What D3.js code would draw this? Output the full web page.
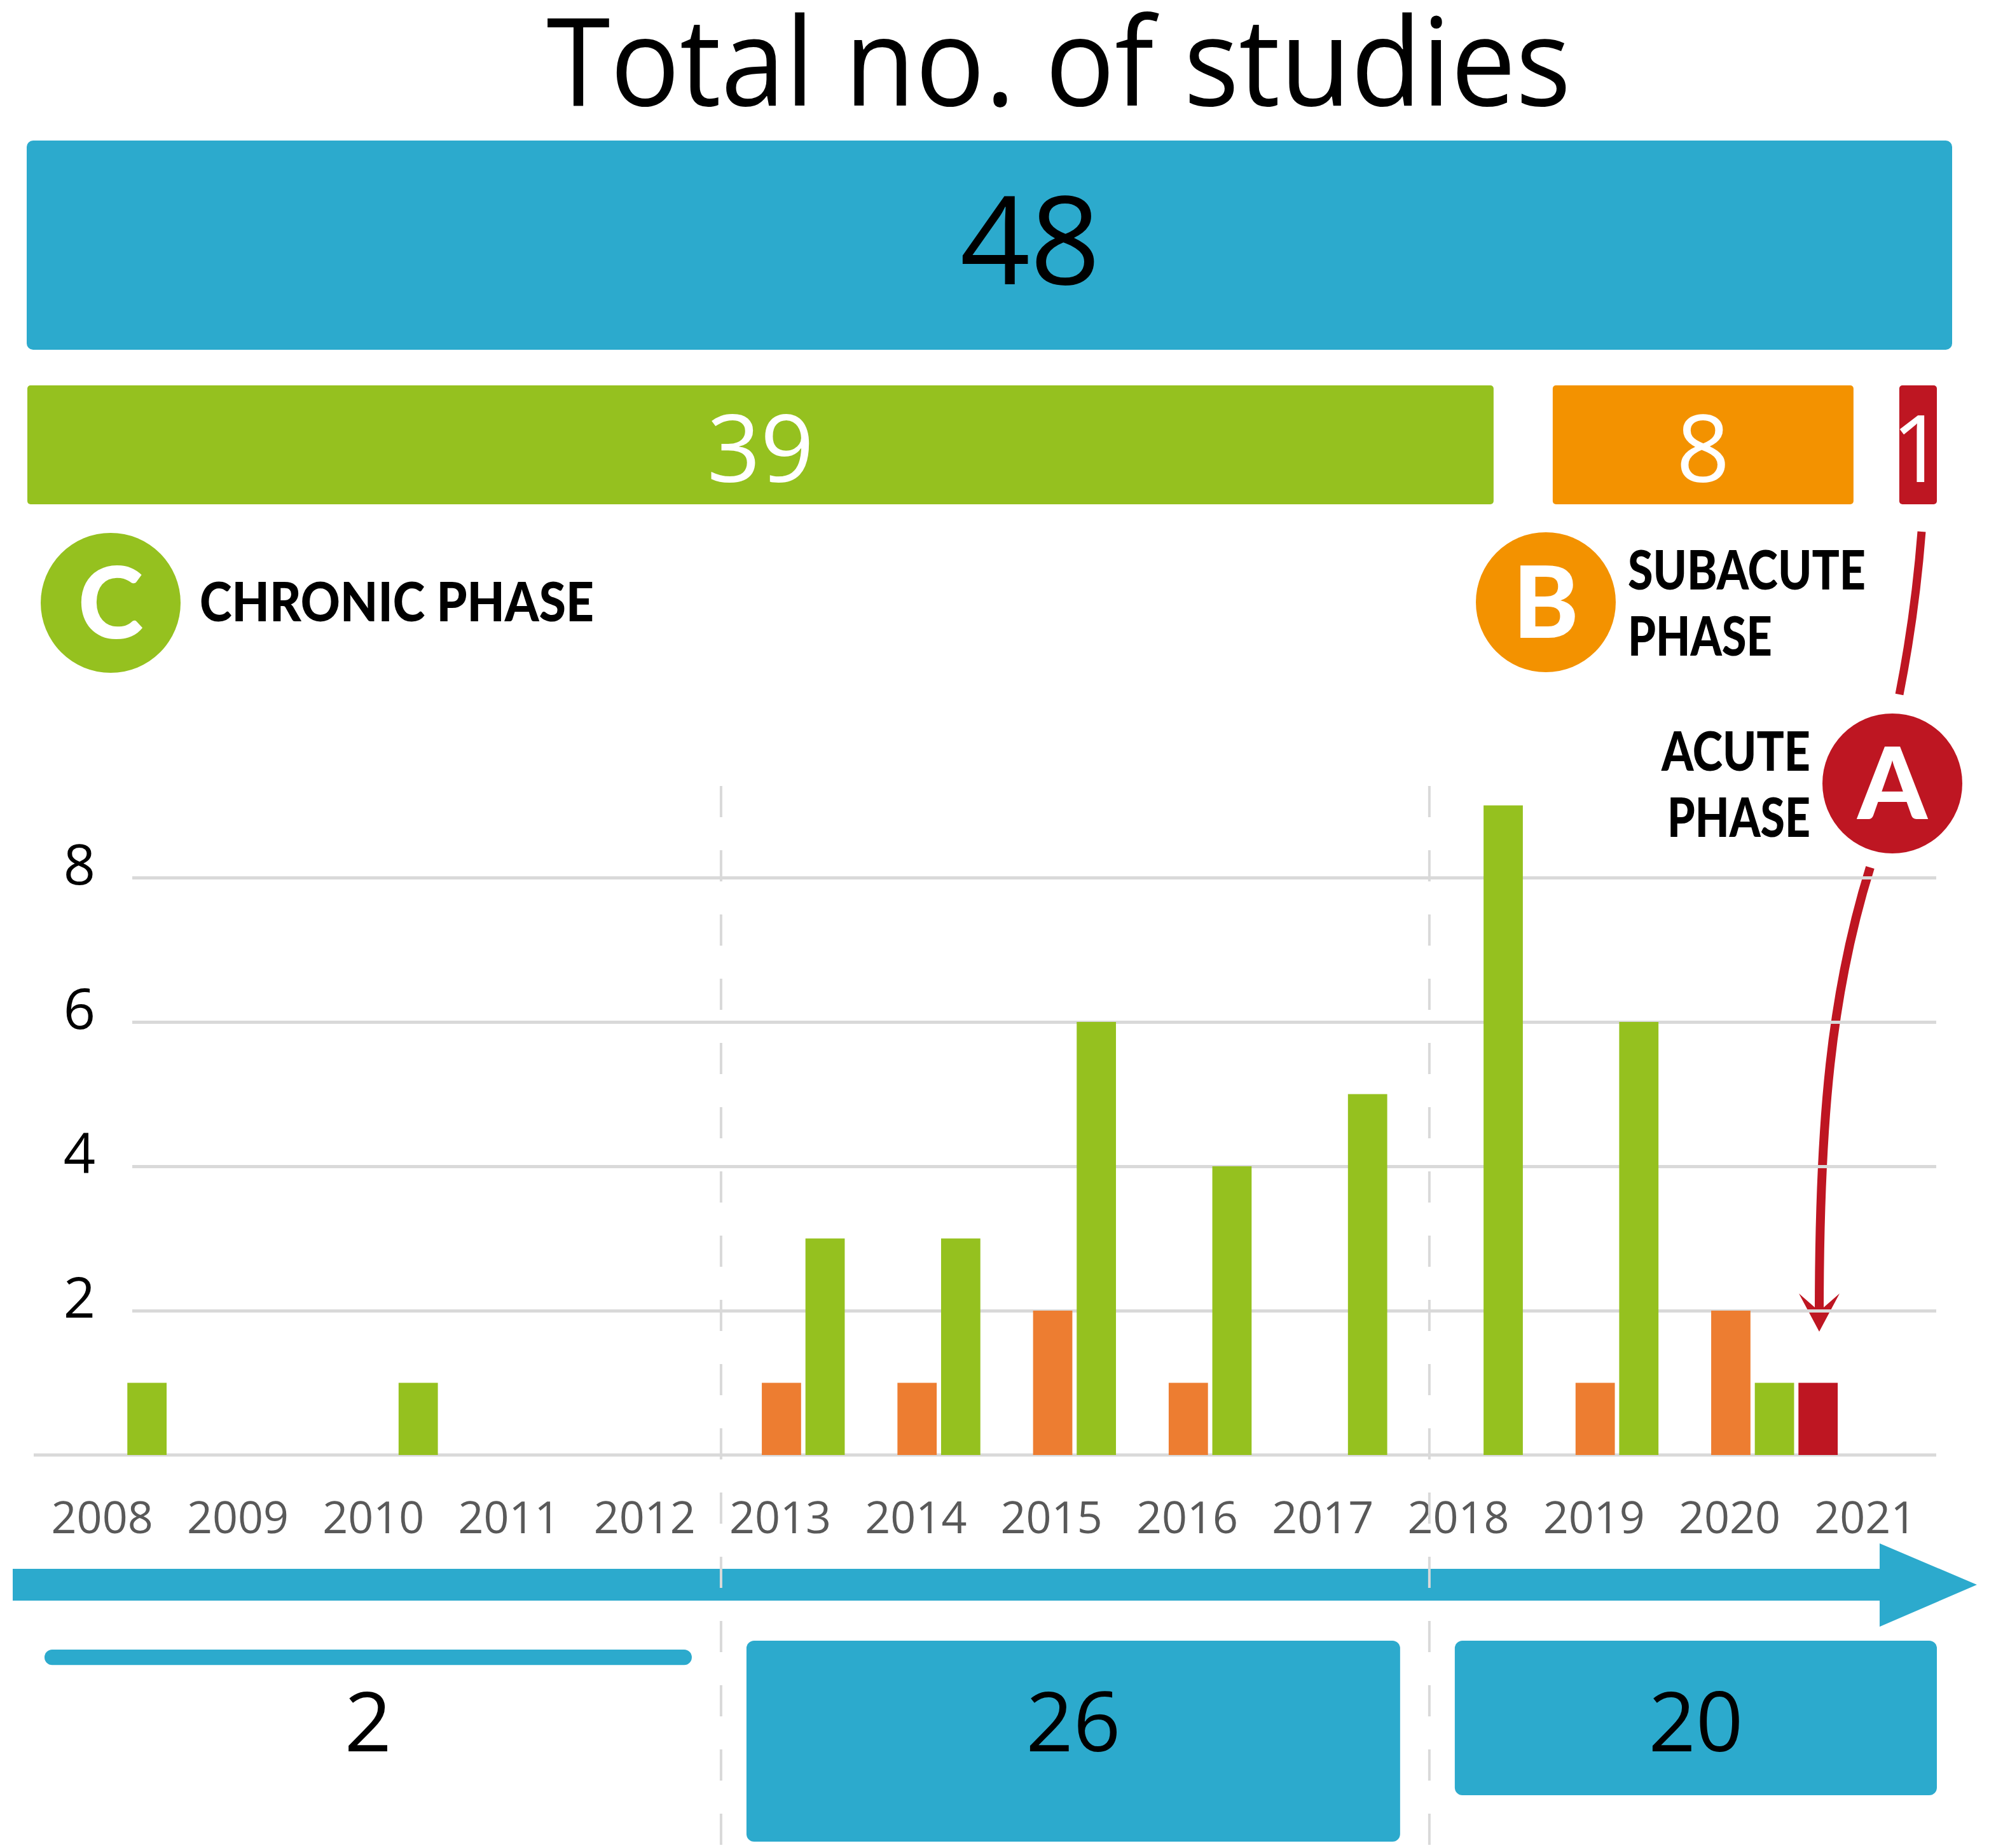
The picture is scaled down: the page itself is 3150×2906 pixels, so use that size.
<!DOCTYPE html>
<html>
<head>
<meta charset="utf-8">
<script src="https://cdn.jsdelivr.net/npm/d3@7"></script>
<style>
html,body{margin:0;padding:0;background:#fff;}
svg{display:block;}
</style>
</head>
<body>
<div id="chart"></div>
<script>
"use strict";
// données
const title = "Total no. of studies";
const totalStudies = 48;
const years = [2008,2009,2010,2011,2012,2013,2014,2015,2016,2017,2018,2019,2020,2021];
const chronic  = [1,0,1,0,0,3,3,6,4,5,9,6,1,0];
const subacute = [0,0,0,0,0,1,1,2,1,0,0,1,2,0];
const acute    = [0,0,0,0,0,0,0,0,0,0,0,0,1,0];
const seriesOrder = ["subacute","chronic","acute"];
const phaseNames = ["chronic","subacute","acute"];
const phaseTotals = [39,8,1];
const yTicks = [2,4,6,8];
const periodStart = [2008,2013,2018];
const periodEnd   = [2012,2017,2021];
const periodTotals = [2,26,20];

const col = {
    blue:"#2CAACD", green:"#95C11F", orange:"#F39200", orangeBar:"#ED7D31",
    red:"#BE1622", grid:"#D9D9D9", year:"#595959"
};
const W = 3150, H = 2906;
const fontNum = "'Open Sans', 'Noto Sans', sans-serif";
const fontBold = "Lato, 'Open Sans', sans-serif";

const svg = d3.select("#chart").append("svg")
    .attr("width",W).attr("height",H).attr("viewBox",[0,0,W,H]);

//titre
svg.append("text")
    .attr("x",1665).attr("y",166).attr("text-anchor","middle")
    .attr("font-family",fontNum).attr("font-size",192)
    .attr("textLength",1611).attr("lengthAdjust","spacingAndGlyphs")
    .text(title);

//barre du total
const xTotal = d3.scaleLinear().domain([0,totalStudies]).range([42,3070]);
svg.append("rect")
    .attr("x",xTotal(0)).attr("y",221)
    .attr("width",xTotal(totalStudies)-xTotal(0)).attr("height",329)
    .attr("rx",10).attr("fill",col.blue);
svg.append("text")
    .attr("x",(xTotal(0)+xTotal(totalStudies))/2+64).attr("y",447)
    .attr("text-anchor","middle").attr("font-family",fontNum).attr("font-size",193)
    .text(totalStudies);

//barres par phase
const phaseColor = {chronic:col.green, subacute:col.orange, acute:col.red};
const gaps = [93,72], phaseLeft = 43, phaseRight = 3046;
const xPhase = d3.scaleLinear().domain([0,totalStudies])
    .range([0, phaseRight-phaseLeft-d3.sum(gaps)]);
let acc = phaseLeft;
const phaseBars = phaseTotals.map((v,i)=>{
    const b = {name:phaseNames[i], value:v, x:acc, w:xPhase(v)};
    acc += xPhase(v)+(gaps[i]||0);
    return b;
});
const gPhase = svg.append("g");
gPhase.selectAll("rect").data(phaseBars).enter().append("rect")
    .attr("x",d=>d.x).attr("y",606).attr("width",d=>d.w).attr("height",187)
    .attr("rx",5).attr("fill",d=>phaseColor[d.name]);
gPhase.selectAll("text").data(phaseBars).enter().append("text")
    .attr("x",d=>d.x+d.w/2).attr("y",758)
    .attr("text-anchor","middle").attr("fill","white")
    .attr("font-family",fontNum).attr("font-size",147)
    .text(d=>d.value);

//légendes des phases
function badge(cx, cy, color, letter){
    svg.append("circle").attr("cx",cx).attr("cy",cy).attr("r",110).attr("fill",color);
    svg.append("text").attr("x",cx).attr("y",cy+56)
        .attr("text-anchor","middle").attr("fill","white")
        .attr("font-family",fontBold).attr("font-weight",900).attr("font-size",156)
        .text(letter);
}
function label(lines, x, y0, anchor){
    lines.forEach((l,i)=>{
        svg.append("text").attr("x",x).attr("y",y0+i*104)
            .attr("text-anchor",anchor)
            .attr("font-family",fontBold).attr("font-weight",900).attr("font-size",86)
            .attr("textLength",l.w).attr("lengthAdjust","spacingAndGlyphs")
            .text(l.t);
    });
}
badge(174,948,col.green,"C");
label([{t:"CHRONIC PHASE",w:620}],314,977,"start");
badge(2431,947,col.orange,"B");
label([{t:"SUBACUTE",w:374},{t:"PHASE",w:227}],2560,927,"start");
badge(2976,1232,col.red,"A");
label([{t:"ACUTE",w:234},{t:"PHASE",w:225}],2847,1212,"end");

//flèche rouge vers la barre aiguë
svg.append("path").attr("d","M3022,836 Q3012,965 2987,1092")
    .attr("fill","none").attr("stroke",col.red).attr("stroke-width",13);
svg.append("path").attr("d","M2941,1364 C2880,1560 2861,1760 2861,2066")
    .attr("fill","none").attr("stroke",col.red).attr("stroke-width",14);
svg.append("path").attr("d","M2829,2034 L2861,2094 L2893,2034 L2861,2062 Z")
    .attr("fill",col.red);

//histogramme
const xYear = d3.scaleBand().domain(years).range([54,3040]);
const bw = xYear.bandwidth();
const xSeries = d3.scaleBand().domain(seriesOrder).range([bw/2-29, bw/2+170]).paddingInner(0.1);
const y = d3.scaleLinear().domain([0,8]).range([2288,1380]);
const seriesColor = {subacute:col.orangeBar, chronic:col.green, acute:col.red};
const seriesValues = {subacute:subacute, chronic:chronic, acute:acute};

//grille et axe y
const gy = svg.append("g").attr("transform","translate(208,0)")
    .call(d3.axisLeft(y).tickValues(yTicks).tickSize(-(3045-208)).tickPadding(58));
gy.select(".domain").remove();
gy.selectAll(".tick line").attr("stroke",col.grid).attr("stroke-width",5);
gy.selectAll(".tick text").attr("font-family",fontNum).attr("font-size",88)
    .attr("fill","#000").attr("dy","0.12em");
svg.append("line").attr("x1",53).attr("x2",3045).attr("y1",y(0)).attr("y2",y(0))
    .attr("stroke",col.grid).attr("stroke-width",5);

//axe x (années)
const gx = svg.append("g").attr("transform",`translate(0,${y(0)})`)
    .call(d3.axisBottom(xYear).tickSize(0).tickPadding(73));
gx.select(".domain").remove();
gx.selectAll(".tick text").attr("font-family",fontNum).attr("font-size",70).attr("fill",col.year);

//barres
const barData = [];
years.forEach((yr,i)=>{
    seriesOrder.forEach(s=>{
        const v = seriesValues[s][i];
        if(v>0) barData.push({year:yr, series:s, value:v});
    });
});
svg.append("g").selectAll("rect").data(barData).enter().append("rect")
    .attr("x",d=>xYear(d.year)+xSeries(d.series))
    .attr("y",d=>y(d.value))
    .attr("width",xSeries.bandwidth())
    .attr("height",d=>y(0)-y(d.value))
    .attr("fill",d=>seriesColor[d.series]);

//frise chronologique
const xt = d3.scaleLinear().domain([2008,2022]).range([20,3139]);
const tip = xt(2022)-30, headBase = tip-153, yMid = 2492;
svg.append("polygon")
    .attr("points",[
        [xt(2008),yMid-25],[headBase,yMid-25],[headBase,yMid-65],[tip,yMid],
        [headBase,yMid+66],[headBase,yMid+25],[xt(2008),yMid+25]
    ].map(p=>p.join(",")).join(" "))
    .attr("fill",col.blue);

//séparateurs de périodes
svg.append("g").selectAll("line").data(periodStart.slice(1)).enter().append("line")
    .attr("x1",d=>xt(d)).attr("x2",d=>xt(d)).attr("y1",1236).attr("y2",H)
    .attr("stroke",col.grid).attr("stroke-width",4).attr("stroke-dasharray","49 52");

//boîtes des périodes (hauteur proportionnelle au nombre d'études)
const boxUnit = 12.15, boxTop = 2580;
const periods = periodTotals.map((n,i)=>({
    n:n,
    h:n*boxUnit,
    x0:xt(periodStart[i])+(i==0 ? 50 : 40),
    x1:Math.min(xt(periodEnd[i]+1)-46, phaseRight)
}));
const gP = svg.append("g");
gP.selectAll("rect").data(periods).enter().append("rect")
    .attr("x",d=>d.x0).attr("y",d=>d.h<100 ? boxTop+14 : boxTop)
    .attr("width",d=>d.x1-d.x0).attr("height",d=>d.h)
    .attr("rx",d=>Math.min(12,d.h/2)).attr("fill",col.blue);
gP.selectAll("text").data(periods).enter().append("text")
    .attr("x",d=>(d.x0+d.x1)/2).attr("y",2754)
    .attr("text-anchor","middle").attr("font-family",fontNum).attr("font-size",130)
    .text(d=>d.n);
</script>
</body>
</html>
